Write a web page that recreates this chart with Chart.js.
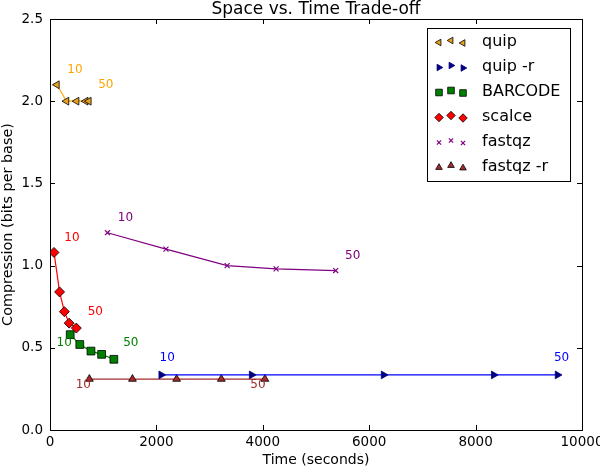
<!DOCTYPE html>
<html>
<head>
<meta charset="utf-8">
<script src="https://cdn.jsdelivr.net/npm/chart.js@4"></script>
<style>
  html, body { margin: 0; padding: 0; background: #fff; }
  #wrap { width: 600px; height: 469px; }
</style>
</head>
<body>
<div id="wrap"><canvas id="c" width="600" height="469"></canvas></div>
<script>
// ---- data ----
const seriesNames = ['quip', 'quip -r', 'BARCODE', 'scalce', 'fastqz', 'fastqz -r'];
const quipTime = [130, 310, 500, 670, 730];
const quipComp = [2.1, 2.0, 2.0, 2.0, 2.0];
const quipRTime = [2090, 3790, 6270, 8340, 9540];
const quipRComp = [0.335, 0.335, 0.335, 0.335, 0.335];
const barcodeTime = [380, 560, 770, 970, 1200];
const barcodeComp = [0.58, 0.52, 0.48, 0.46, 0.43];
const scalceTime = [75, 180, 270, 360, 495];
const scalceComp = [1.08, 0.84, 0.72, 0.65, 0.62];
const fastqzTime = [1080, 2180, 3330, 4250, 5370];
const fastqzComp = [1.2, 1.1, 1.0, 0.98, 0.97];
const fastqzRTime = [740, 1550, 2380, 3220, 4040];
const fastqzRComp = [0.31, 0.31, 0.31, 0.31, 0.31];
const endLabels = ['10', '50'];
const xTicks = [0, 2000, 4000, 6000, 8000, 10000];
const yTicks = [0.0, 0.5, 1.0, 1.5, 2.0, 2.5];

const FONT = "'DejaVu Sans', sans-serif";
const toPts = (xs, ys) => xs.map((x, i) => ({ x: x, y: ys[i] }));

// styles (not data)
const styles = [
  { line: '#FFA500', face: '#E8A020', edge: '#000', style: 'triangle', rot: -90, r: 4.5, lab: '#FFA500', off: [[18, -15], [17, -16]] },
  { line: '#0000FF', face: '#000080', edge: '#000080', style: 'triangle', rot: 90, r: 4.5, lab: '#0000FF', off: [[6, -17], [4, -17]] },
  { line: '#008000', face: '#008000', edge: '#000', style: 'rect', rot: 0, r: 5.5, lab: '#008000', off: [[-6, 8], [17, -16]] },
  { line: '#FF0000', face: '#FF0000', edge: '#000', style: 'rectRot', rot: 0, r: 5, lab: '#FF0000', off: [[18, -15], [19, -16]] },
  { line: '#800080', face: '#800080', edge: '#800080', style: 'crossRot', rot: 0, r: 3.5, lab: '#800080', off: [[18, -15], [17, -15]] },
  { line: '#A52A2A', face: '#A52A2A', edge: '#000', style: 'triangle', rot: 0, r: 4.5, lab: '#A52A2A', off: [[-6, 6], [-7, 6]] }
];
const seriesData = [
  toPts(quipTime, quipComp),
  toPts(quipRTime, quipRComp),
  toPts(barcodeTime, barcodeComp),
  toPts(scalceTime, scalceComp),
  toPts(fastqzTime, fastqzComp),
  toPts(fastqzRTime, fastqzRComp)
];

const datasets = seriesNames.map((name, i) => ({
  label: name,
  data: seriesData[i],
  showLine: true,
  borderColor: styles[i].line,
  borderWidth: 1.2,
  pointStyle: styles[i].style,
  pointRotation: styles[i].rot,
  pointRadius: styles[i].r,
  pointBackgroundColor: styles[i].face,
  pointBorderColor: styles[i].edge,
  pointBorderWidth: styles[i].style === 'crossRot' ? 1.2 : 0.8,
  tension: 0
}));

const framePlugin = {
  id: 'frame',
  afterDatasetsDraw(chart) {
    const ctx = chart.ctx;
    const a = chart.chartArea;
    const xs = chart.scales.x, ys = chart.scales.y;
    ctx.save();
    ctx.strokeStyle = '#000';
    ctx.lineWidth = 1;
    ctx.strokeRect(Math.round(a.left) + 0.5, Math.round(a.top) + 0.5,
                   Math.round(a.right - a.left), Math.round(a.bottom - a.top));
    ctx.beginPath();
    xTicks.forEach(v => {
      const px = Math.round(xs.getPixelForValue(v)) + 0.5;
      ctx.moveTo(px, a.bottom); ctx.lineTo(px, a.bottom - 5);
      ctx.moveTo(px, a.top); ctx.lineTo(px, a.top + 5);
    });
    yTicks.forEach(v => {
      const py = Math.round(ys.getPixelForValue(v)) + 0.5;
      ctx.moveTo(a.left, py); ctx.lineTo(a.left + 5, py);
      ctx.moveTo(a.right, py); ctx.lineTo(a.right - 5, py);
    });
    ctx.stroke();

    // end labels
    ctx.font = '12px ' + FONT;
    ctx.textAlign = 'center';
    ctx.textBaseline = 'middle';
    chart.data.datasets.forEach((ds, i) => {
      const meta = chart.getDatasetMeta(i);
      const pts = meta.data;
      const ends = [pts[0], pts[pts.length - 1]];
      ctx.fillStyle = styles[i].lab;
      ends.forEach((p, k) => {
        ctx.fillText(endLabels[k], p.x + styles[i].off[k][0], p.y + styles[i].off[k][1]);
      });
    });

    // title
    ctx.fillStyle = '#000';
    ctx.font = '17px ' + FONT;
    ctx.textBaseline = 'middle';
    ctx.fillText('Space vs. Time Trade-off', (a.left + a.right) / 2, 10);

    // legend
    const lx = 427.5, ly = 28.5, lw = 143, lh = 153;
    ctx.fillStyle = '#fff';
    ctx.fillRect(lx, ly, lw, lh);
    ctx.strokeStyle = '#000';
    ctx.lineWidth = 1;
    ctx.strokeRect(lx, ly, lw, lh);
    const mxs = [439, 451, 463];
    const myOff = [0.5, -1.5, 1];
    ctx.font = '16px ' + FONT;
    ctx.textAlign = 'left';
    seriesNames.forEach((name, i) => {
      const cy = 42 + i * 25;
      const st = styles[i];
      mxs.forEach((mx, k) => {
        ctx.fillStyle = st.face;
        ctx.strokeStyle = st.edge;
        ctx.lineWidth = st.style === 'crossRot' ? 1.2 : 0.8;
        Chart.helpers.drawPoint(ctx, {
          pointStyle: st.style, rotation: st.rot, radius: st.r * 0.85, borderWidth: ctx.lineWidth
        }, mx, cy + myOff[k]);
      });
      ctx.fillStyle = '#000';
      ctx.textBaseline = 'middle';
      ctx.fillText(name, 482, cy);
    });
    ctx.restore();
  }
};

new Chart(document.getElementById('c'), {
  type: 'scatter',
  data: { datasets: datasets },
  options: {
    responsive: false,
    animation: false,
    devicePixelRatio: 1,
    layout: { padding: { top: 19, right: 18, left: 0, bottom: 0 } },
    plugins: { legend: { display: false }, title: { display: false }, tooltip: { enabled: false } },
    scales: {
      x: {
        type: 'linear', min: 0, max: 10000,
        afterBuildTicks(s) { s.ticks = xTicks.map(v => ({ value: v })); },
        ticks: { color: '#000', font: { family: FONT, size: 13.5 }, padding: 4, maxRotation: 0, autoSkip: false,
                 callback: v => String(v) },
        grid: { display: false, drawTicks: false },
        border: { display: false },
        title: { display: true, text: 'Time (seconds)', color: '#000', font: { family: FONT, size: 14 }, padding: { top: 2, bottom: 0 } },
        afterFit(s) { s.height = 39; s.paddingLeft = 0; s.paddingRight = 0; }
      },
      y: {
        type: 'linear', min: 0, max: 2.5,
        afterBuildTicks(s) { s.ticks = yTicks.map(v => ({ value: v })); },
        ticks: { color: '#000', font: { family: FONT, size: 13.5 }, padding: 7, autoSkip: false,
                 callback: v => Number(v).toFixed(1) },
        grid: { display: false, drawTicks: false },
        border: { display: false },
        title: { display: true, text: 'Compression (bits per base)', color: '#000', font: { family: FONT, size: 14.4 }, padding: { top: 0, bottom: 0 } },
        afterFit(s) { s.width = 50; s.paddingTop = 0; s.paddingBottom = 0; }
      }
    }
  },
  plugins: [framePlugin]
});
</script>
</body>
</html>
